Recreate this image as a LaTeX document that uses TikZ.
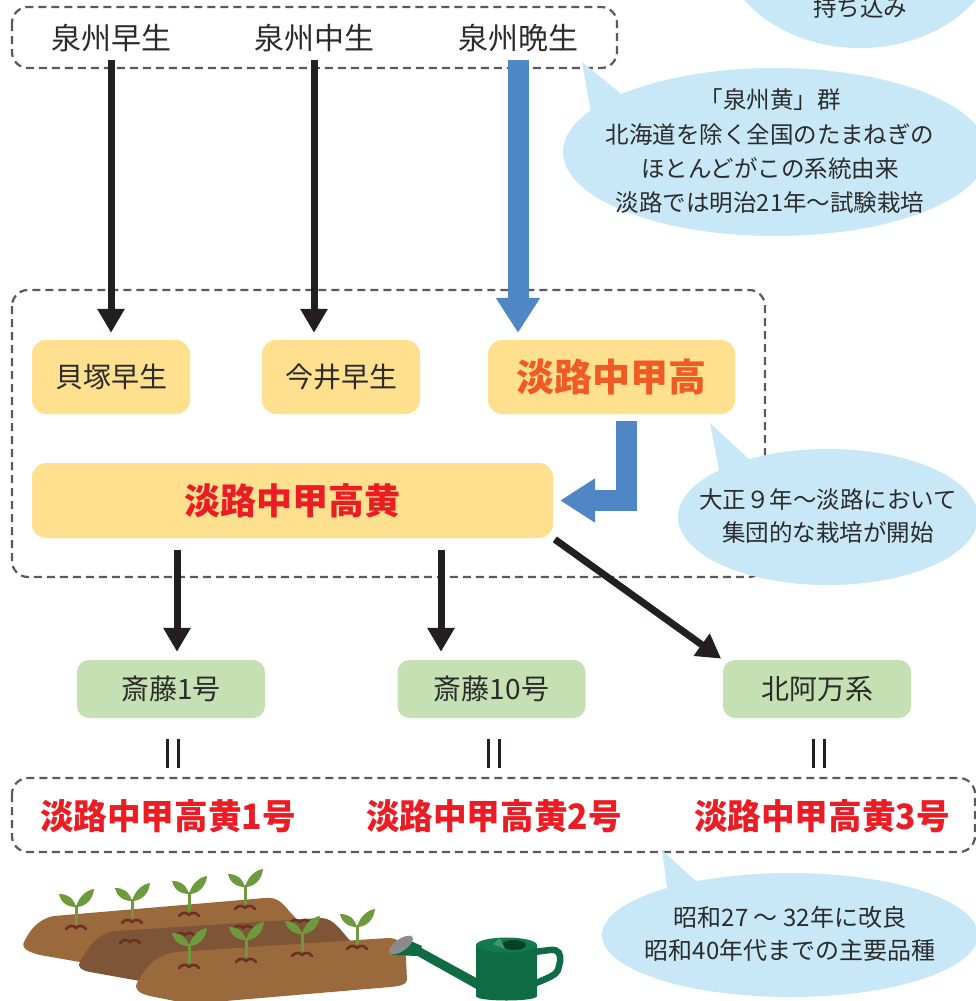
\documentclass[tikz,border=0pt]{standalone}
\usepackage{fontspec}
\setmainfont{Noto Sans CJK JP}
\newfontfamily\namefont{Noto Sans CJK JP}[FakeStretch=0.96]
\usetikzlibrary{arrows.meta,calc}
\definecolor{ink}{HTML}{2B2B2B}
\definecolor{arrowk}{HTML}{231F20}
\definecolor{framegray}{HTML}{5A5A5A}
\definecolor{boxyellow}{HTML}{FEE08E}
\definecolor{boxgreen}{HTML}{C5E0B2}
\definecolor{bubble}{HTML}{C8E8F8}
\definecolor{flowblue}{HTML}{4F86C6}
\definecolor{hiorange}{HTML}{F05A24}
\definecolor{hired}{HTML}{EC1C24}
\definecolor{bedlight}{HTML}{9A693C}
\definecolor{beddark}{HTML}{7E5637}
\definecolor{soil}{HTML}{6E2F25}
\definecolor{leaf}{HTML}{6E9A3E}
\definecolor{cangreen}{HTML}{0E6B44}
\definecolor{canrim}{HTML}{137A4E}
\definecolor{candark}{HTML}{06402A}
\definecolor{rose}{HTML}{8C8C8C}
\begin{document}
\begin{tikzpicture}[x=1pt,y=-1pt,
  frame/.style={draw=framegray, line width=2.2pt, dash pattern=on 8pt off 5pt, rounded corners=16pt},
  label/.style={text=ink, font=\fontsize{30}{32}\selectfont, inner sep=0pt, minimum height=44pt},
  ybox/.style={fill=boxyellow, rounded corners=14pt, minimum height=74pt, inner sep=0pt, text=ink, font=\fontsize{28}{30}\selectfont},
  gbox/.style={fill=boxgreen, rounded corners=12pt, minimum height=58pt, minimum width=188pt, inner sep=0pt, text=ink, font=\fontsize{28}{30}\selectfont},
  redname/.style={text=hired, font=\namefont\fontsize{35}{38}\selectfont\bfseries, inner sep=0pt},
  blk/.style={draw=arrowk, line width=7pt, -{Triangle[width=26pt,length=24pt]}},
  bluearr/.style={draw=flowblue, line width=21pt, -{Triangle[width=42pt,length=35pt]}},
  eqline/.style={draw=arrowk, line width=3pt},
  bub/.style={fill=bubble},
  note/.style={text=ink, align=center, inner sep=0pt},
  sprout/.pic={
    \draw[leaf, line width=3pt] (0,0) -- (0,-19);
    \fill[leaf] (0,-17) .. controls (-3,-27) and (-9,-30) .. (-17,-30)
                        .. controls (-15,-21) and (-8,-17) .. (0,-17) -- cycle;
    \fill[leaf] (0,-17) .. controls (3,-28) and (11,-34) .. (18,-35)
                        .. controls (17,-24) and (9,-17) .. (0,-17) -- cycle;
  },
  mark/.pic={
    \draw[soil, line width=2.6pt, line cap=round] (-10,1) .. controls (-7,-3) and (-3,-3) .. (0,0)
                                                  .. controls (3,-3) and (7,-3) .. (10,1);
  }
]
\useasboundingbox (0,0) rectangle (976,1001);
\clip (0,0) rectangle (976,1001);

% --- grouping frames ---
\draw[frame] (12,7) rectangle (617,68);
\draw[frame] (12,290) rectangle (765,577);
\draw[frame] (12,778) rectangle (975,852);

% --- source lines ---
\node[label] (s1) at (111,38) {泉州早生};
\node[label] (s2) at (314,38) {泉州中生};
\node[label] (s3) at (518,38) {泉州晩生};

% --- Awaji selections ---
\node[ybox, minimum width=158pt] (kaizuka) at (111,377) {貝塚早生};
\node[ybox, minimum width=158pt] (imai) at (341,377) {今井早生};
\node[ybox, minimum width=247pt, text=hiorange, font=\fontsize{38}{40}\selectfont\bfseries] (awaji) at (611.5,377) {淡路中甲高};
\node[ybox, minimum width=521pt, minimum height=75pt, text=hired, font=\fontsize{36}{38}\selectfont\bfseries] (kouki) at (292.5,500.5) {淡路中甲高黄};

% --- derived strains ---
\node[gbox] (saito1) at (171,689) {斎藤1号};
\node[gbox] (saito10) at (491.5,689) {斎藤10号};
\node[gbox] (kita) at (817,689) {北阿万系};

\node[redname] (r1) at (168,816) {淡路中甲高黄1号};
\node[redname] (r2) at (494,816) {淡路中甲高黄2号};
\node[redname] (r3) at (822,816) {淡路中甲高黄3号};

% --- connectors ---
\coordinate (c1) at (177,0);
\coordinate (c2) at (441,0);
\draw[blk, shorten >=7pt] (s1.south) -- (kaizuka.north);
\draw[blk, shorten >=7pt] (s2.south) -- (s2.south |- imai.north);
\draw[bluearr, shorten >=7pt] (s3.south) -- (s3.south |- awaji.north);
\draw[bluearr, line join=miter] ($(awaji.south)+(14.5,7)$) |- ($(kouki.east)+(7,0)$);
\draw[blk, shorten <=12pt, shorten >=8pt] (kouki.south -| c1) -- (saito1.north -| c1);
\draw[blk, shorten <=12pt, shorten >=8pt] (kouki.south -| c2) -- (saito10.north -| c2);
\draw[blk, shorten <=2pt, shorten >=2pt] (kouki.south east) -- (kita.north west);

% --- equality marks ---
\foreach \b in {saito1, saito10, kita} {
  \draw[eqline] ($(\b.south)+(-3.5,21)$) -- ++(0,29);
  \draw[eqline] ($(\b.south)+(7.5,21)$) -- ++(0,29);
}

% --- speech bubbles ---
\fill[bub] (860,-62) ellipse (140 and 110);
\node[note, font=\fontsize{23.5}{34}\selectfont] (note1) at (860,8) {持ち込み};

\fill[bub] (582,62) -- (592,118) -- (625,97) -- cycle;
\fill[bub] (775,152) ellipse (212 and 84);
\node[note, font=\fontsize{23.5}{34.3}\selectfont] (note2) at (770,151.5)
  {「泉州黄」群\\北海道を除く全国のたまねぎの\\ほとんどがこの系統由来\\淡路では明治21年～試験栽培};

\fill[bub] (710,423) -- (720,475) -- (752,462) -- cycle;
\fill[bub] (828,517) ellipse (150 and 68);
\node[note, font=\fontsize{23.5}{33}\selectfont] (note3) at (828,516.5)
  {大正９年～淡路において\\集団的な栽培が開始};

\fill[bub] (662,850) -- (668,895) -- (700,885) -- cycle;
\fill[bub] (790,935) ellipse (188 and 62);
\node[note, font=\fontsize{24}{33}\selectfont] (note4) at (790,933.5)
  {昭和27 ～ 32年に改良\\昭和40年代までの主要品種};

% --- garden beds ---
\fill[bedlight] (24,942) .. controls (30,930) and (38,919) .. (54,916) -- (265,898)
  .. controls (276,897) and (281,901) .. (290,912) -- (305,928) -- (80,962) -- (40,955)
  .. controls (28,952) and (21,948) .. (24,942) -- cycle;
\foreach \x/\y in {76/928, 132/922, 189/915, 245/908} {
  \pic at (\x,\y) {mark};
  \pic at (\x,\y-4) {sprout};
}
\fill[beddark] (80,962) .. controls (88,948) and (96,934) .. (115,931) -- (320,918)
  .. controls (331,918) and (337,925) .. (346,936) -- (362,954) -- (140,981) -- (90,972)
  .. controls (80,970) and (77,966) .. (80,962) -- cycle;
\foreach \x/\y in {130/942, 185/935, 243/928, 300/922} {
  \pic at (\x,\y) {mark};
}
\fill[bedlight] (137,983) .. controls (145,968) and (155,955) .. (176,952) -- (388,938)
  .. controls (400,938) and (404,945) .. (406,958) -- (407,980)
  .. controls (406,985) and (400,986) .. (390,987) -- (190,1004) -- (150,996)
  .. controls (138,993) and (134,989) .. (137,983) -- cycle;
\foreach \x/\y in {189/967, 246/961, 302/955, 357/948} {
  \pic at (\x,\y) {mark};
  \pic at (\x,\y-4) {sprout};
}

% --- watering can ---
\fill[cangreen] (480,980) -- (418,946) -- (414,954) -- (480,991) -- cycle;
\fill[cangreen] (404,938) -- (422,946) -- (418,956) -- (392,955) -- cycle;
\fill[rose, rotate around={35:(401,945)}] (401,945) ellipse (14 and 6);
\foreach \dx/\dy in {-6/2, -2/0, 2/-2, 6/-4, -4/-1, 0/-3, 4/-5, -7/-1, -1/2, 3/0} {
  \fill[black!50] (401+\dx,945+\dy) circle (0.9);
}
\draw[cangreen, line width=6.5pt] (534,952) -- (550,950) .. controls (559,949) and (561,954) .. (560,962)
  -- (558,970) .. controls (556,975) and (548,978) .. (536,983);
\fill[cangreen] (476,945) -- (476,996) .. controls (476,1002) and (537,1002) .. (537,996) -- (537,945) -- cycle;
\fill[canrim] (506.5,945) ellipse (30.5 and 7.5);
\fill[candark] (514,945) ellipse (12 and 5);
\fill[canrim!80!white] (493,944) -- (500,938) -- (505,949) -- cycle;
\end{tikzpicture}
\end{document}
